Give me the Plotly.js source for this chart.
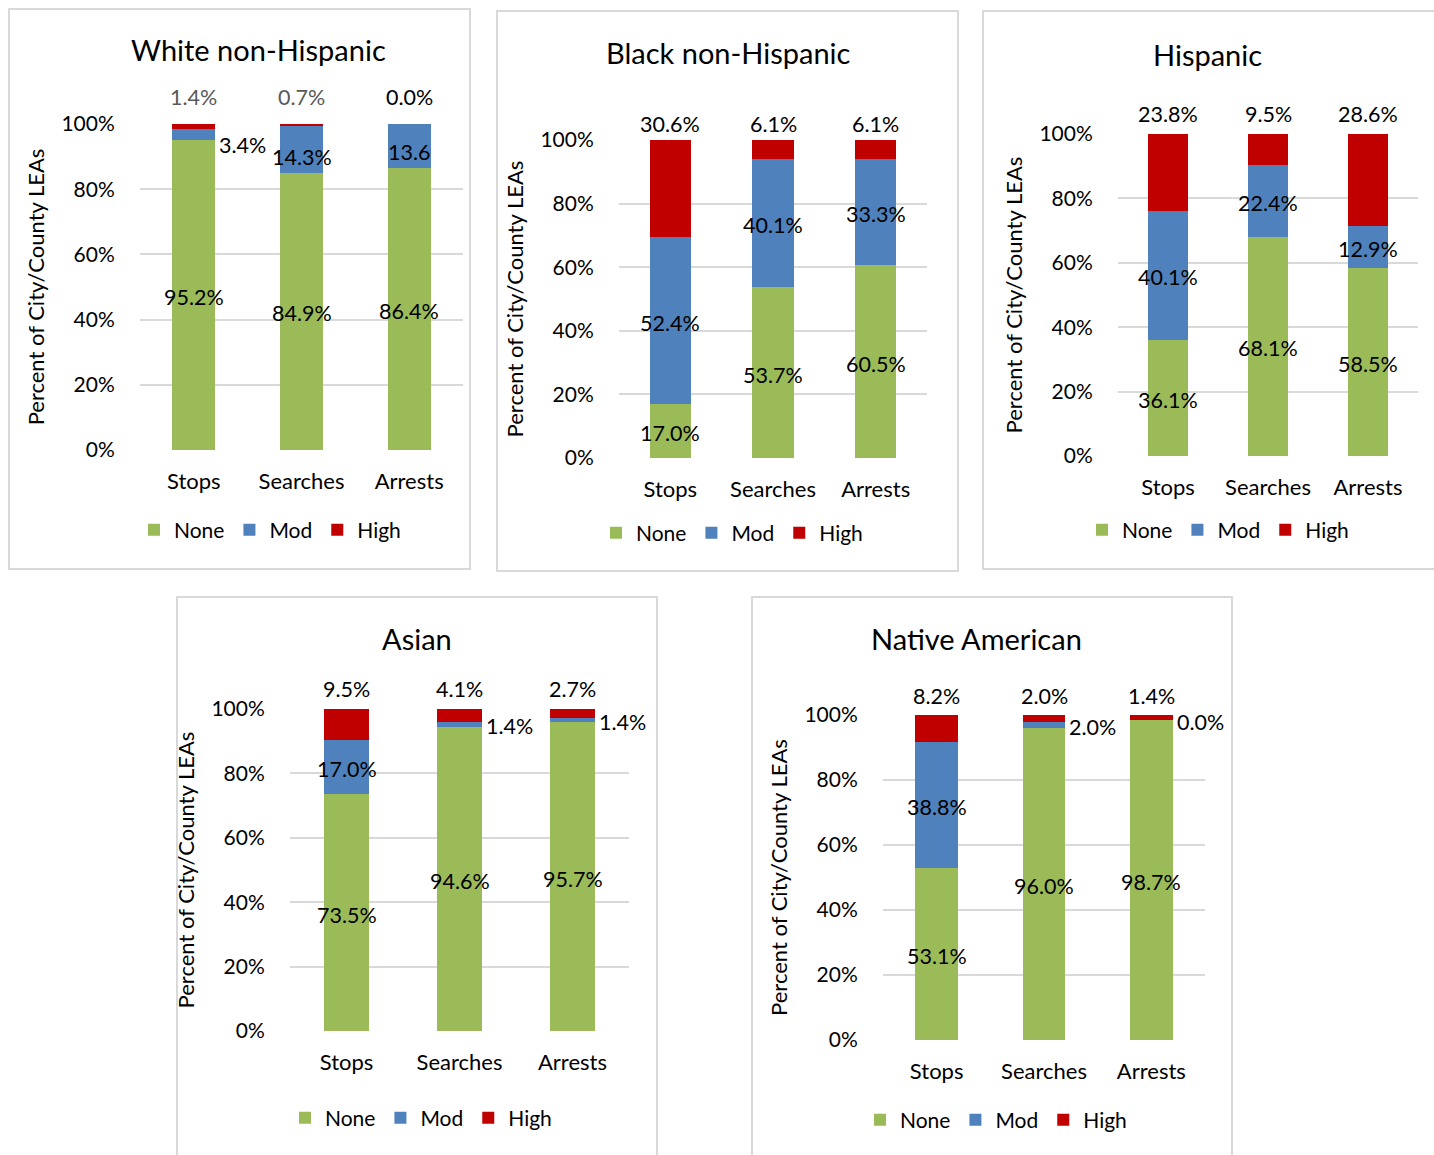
<!DOCTYPE html>
<html>
<head>
<meta charset="utf-8">
<script src="https://cdn.plot.ly/plotly-3.0.1.min.js"></script>
<style>
  html, body { margin: 0; padding: 0; background: #ffffff; }
  #chart { width: 1434px; height: 1155px; }
</style>
</head>
<body>
<div id="chart"></div>
<script>
// ---------------- DATA ----------------
const categories = ['Stops', 'Searches', 'Arrests'];
const seriesNames = ['None', 'Mod', 'High'];
const panelTitles = ['White non-Hispanic', 'Black non-Hispanic', 'Hispanic', 'Asian', 'Native American'];
const yTickVals = [0, 20, 40, 60, 80, 100];
const yTickText = ['0%', '20%', '40%', '60%', '80%', '100%'];
const yAxisTitle = 'Percent of City/County LEAs';

const whiteNone = [95.2, 84.9, 86.4];
const whiteMod  = [3.4, 14.3, 13.6];
const whiteHigh = [1.4, 0.7, 0.0];
const whiteModLabels = ['3.4%', '14.3%', '13.6'];

const blackNone = [17.0, 53.7, 60.5];
const blackMod  = [52.4, 40.1, 33.3];
const blackHigh = [30.6, 6.1, 6.1];

const hispanicNone = [36.1, 68.1, 58.5];
const hispanicMod  = [40.1, 22.4, 12.9];
const hispanicHigh = [23.8, 9.5, 28.6];

const asianNone = [73.5, 94.6, 95.7];
const asianMod  = [17.0, 1.4, 1.4];
const asianHigh = [9.5, 4.1, 2.7];

const nativeNone = [53.1, 96.0, 98.7];
const nativeMod  = [38.8, 2.0, 0.0];
const nativeHigh = [8.2, 2.0, 1.4];

// ---------------- STYLE / LAYOUT ----------------
const W = 1434, H = 1155;
const FONT = 'Lato, "Open Sans", "DejaVu Sans", sans-serif';
const colors = ['#9BBB59', '#4F81BD', '#C00000'];
const px = x => x / W;
const py = y => 1 - y / H;

const fmt = v => v.toFixed(1) + '%';
const LABEL_SIZE = 21.5;

const panels = [
  { title: panelTitles[0], vals: [whiteNone, whiteMod, whiteHigh], modLabels: whiteModLabels,
    plot: [140, 463, 124, 450], box: [9, 470, 9, 569], titleXY: [258, 50], legendXY: [270, 530],
    highShift: 27, highColors: ['#595959', '#595959', '#000000'], modShift: [-11, -7, -6] },
  { title: panelTitles[1], vals: [blackNone, blackMod, blackHigh],
    plot: [619, 927, 140, 458], box: [497, 958, 11, 571], titleXY: [728, 52], legendXY: [732, 533],
    highShift: 16 },
  { title: panelTitles[2], vals: [hispanicNone, hispanicMod, hispanicHigh],
    plot: [1118, 1418, 134, 456], box: [983, 1445, 11, 569], titleXY: [1207, 54], legendXY: [1218, 530],
    highShift: 20 },
  { title: panelTitles[3], vals: [asianNone, asianMod, asianHigh],
    plot: [290, 629, 709, 1031], box: [177, 657, 597, 1165], titleXY: [417, 638], legendXY: [421, 1118],
    highShift: 20 },
  { title: panelTitles[4], vals: [nativeNone, nativeMod, nativeHigh],
    plot: [883, 1205, 715, 1040], box: [752, 1232, 597, 1165], titleXY: [976, 638], legendXY: [996, 1120],
    highShift: 19 }
];

const traces = [];
const annotations = [];
const shapes = [];
const layout = {
  width: W, height: H,
  margin: { l: 0, r: 0, t: 0, b: 0 },
  paper_bgcolor: '#ffffff',
  plot_bgcolor: 'rgba(0,0,0,0)',
  barmode: 'stack',
  barnorm: 'percent',
  bargap: 0.6,
  font: { family: FONT, size: 21, color: '#000000' },
  showlegend: true,
  annotations: annotations,
  shapes: shapes
};

panels.forEach((p, k) => {
  const n = k + 1;
  const xa = n === 1 ? 'x' : 'x' + n;
  const ya = n === 1 ? 'y' : 'y' + n;
  const legendId = n === 1 ? 'legend' : 'legend' + n;

  // bars
  p.vals.forEach((arr, s) => {
    traces.push({
      type: 'bar', x: categories, y: arr, name: seriesNames[s],
      xaxis: xa, yaxis: ya, legend: legendId,
      marker: { color: colors[s], line: { width: 0 } },
      hoverinfo: 'x+y+name'
    });
  });

  // axes
  layout['xaxis' + (n === 1 ? '' : n)] = {
    domain: [px(p.plot[0]), px(p.plot[1])],
    anchor: ya, type: 'category', range: [-0.5, 2.5],
    showgrid: false, zeroline: false, showline: false,
    ticks: 'outside', ticklen: 12, tickcolor: 'rgba(0,0,0,0)',
    tickfont: { family: FONT, size: 22, color: '#000000' },
    fixedrange: true
  };
  layout['yaxis' + (n === 1 ? '' : n)] = {
    domain: [py(p.plot[3]), py(p.plot[2])],
    anchor: xa, range: [0, 100],
    tickvals: yTickVals, ticktext: yTickText,
    showgrid: true, gridcolor: '#D9D9D9', gridwidth: 2,
    zeroline: false, showline: false,
    ticks: 'outside', ticklen: 20, tickcolor: 'rgba(0,0,0,0)',
    tickfont: { family: FONT, size: 21, color: '#000000' },
    title: { text: yAxisTitle, font: { family: FONT, size: 22, color: '#000000' }, standoff: 10 },
    fixedrange: true
  };

  // legend
  layout[legendId] = {
    orientation: 'h', x: px(p.legendXY[0]), y: py(p.legendXY[1]),
    xanchor: 'center', yanchor: 'middle', traceorder: 'normal',
    font: { family: FONT, size: 21, color: '#000000' },
    bgcolor: 'rgba(0,0,0,0)', itemclick: false, itemdoubleclick: false
  };

  // panel border
  shapes.push({
    type: 'rect', xref: 'paper', yref: 'paper', layer: 'below',
    x0: px(p.box[0]), x1: px(p.box[1]), y0: py(p.box[3]), y1: py(p.box[2]),
    line: { color: '#D9D9D9', width: 2 }, fillcolor: 'rgba(0,0,0,0)'
  });

  // title
  annotations.push({
    xref: 'paper', yref: 'paper', x: px(p.titleXY[0]), y: py(p.titleXY[1]),
    xanchor: 'center', yanchor: 'middle', showarrow: false,
    text: p.title, font: { family: FONT, size: 29, color: '#000000' }
  });

  // data labels
  const [none, mod, high] = p.vals;
  categories.forEach((c, i) => {
    const tot = none[i] + mod[i] + high[i];
    const nN = none[i] / tot * 100;
    const mN = mod[i] / tot * 100;
    // None label (centred in segment)
    annotations.push({
      xref: xa, yref: ya, x: i, y: nN / 2, yshift: -2,
      xanchor: 'center', yanchor: 'middle', showarrow: false,
      text: fmt(none[i]), font: { family: FONT, size: LABEL_SIZE, color: '#000000' }
    });
    // Mod label: centred, or beside the bar if the segment is thin
    const modText = p.modLabels ? p.modLabels[i] : fmt(mod[i]);
    const thin = mod[i] < 5;
    annotations.push({
      xref: xa, yref: ya, x: thin ? i + 0.2 : i, y: nN + mN / 2,
      xshift: thin ? 2 : 0,
      yshift: p.modShift ? p.modShift[i] : -2,
      xanchor: thin ? 'left' : 'center', yanchor: 'middle', showarrow: false,
      text: modText, font: { family: FONT, size: LABEL_SIZE, color: '#000000' }
    });
    // High label above the bar
    annotations.push({
      xref: xa, yref: ya, x: i, y: 100, yshift: p.highShift,
      xanchor: 'center', yanchor: 'middle', showarrow: false,
      text: fmt(high[i]),
      font: { family: FONT, size: LABEL_SIZE, color: p.highColors ? p.highColors[i] : '#000000' }
    });
  });
});

Plotly.newPlot('chart', traces, layout, { staticPlot: true, displayModeBar: false });
</script>
</body>
</html>
